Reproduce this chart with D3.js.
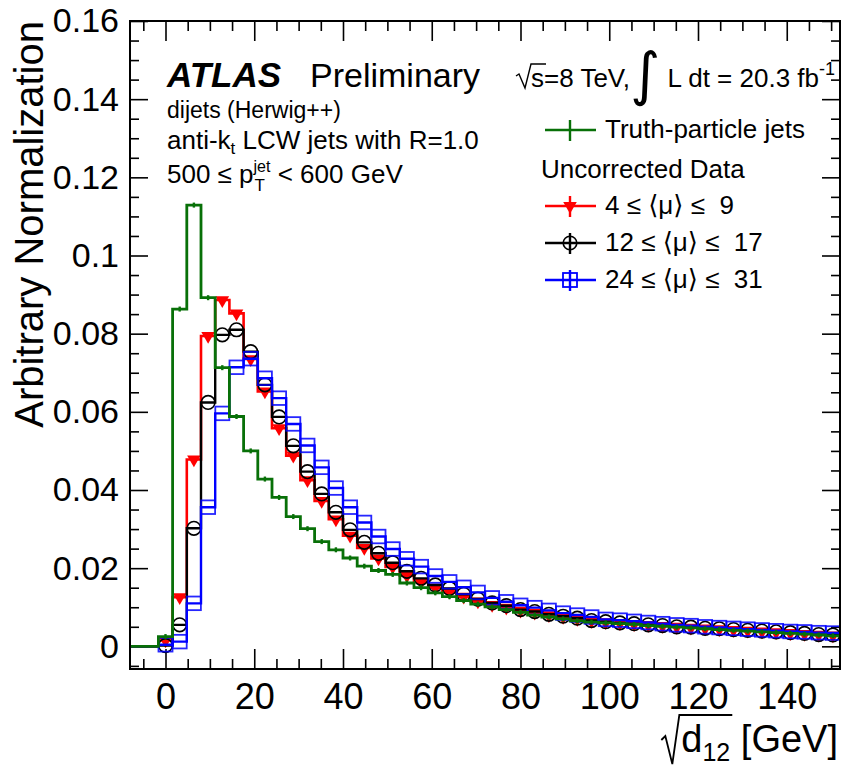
<!DOCTYPE html>
<html>
<head>
<meta charset="utf-8">
<script src="https://cdn.jsdelivr.net/npm/d3@7"></script>
<style>
body{margin:0;background:#fff;}
svg text{font-family:"Liberation Sans",Arial,Helvetica,"DejaVu Sans",sans-serif;fill:#000;white-space:pre;}
</style>
</head>
<body>
<div id="chart"></div>
<script>
// sqrt(d12) bins, 3.2 GeV wide
const binCenters=[-6.4,-3.2,0,3.2,6.4,9.6,12.8,16,19.2,22.4,25.6,28.8,32,35.2,38.4,41.6,44.8,48,51.2,54.4,
  57.6,60.8,64,67.2,70.4,73.6,76.8,80,83.2,86.4,89.6,92.8,96,99.2,102.4,105.6,108.8,112,115.2,118.4,
  121.6,124.8,128,131.2,134.4,137.6,140.8,144,147.2,150.4];
const halfBin=1.6;

const truthJets=[0,0,0.0025,0.0863,0.1129,0.0892,0.0713,0.0588,0.0500,0.0428,0.0381,0.0332,0.0301,0.0268,0.0247,0.0226,0.0205,0.0194,0.0184,0.0162,
  0.0150,0.0137,0.0127,0.0117,0.0108,0.0101,0.0094,0.0087,0.0080,0.0075,0.0070,0.0065,0.0062,0.0060,0.0058,0.0056,0.0053,0.0051,0.0049,0.0047,
  0.0045,0.0043,0.0041,0.0039,0.0037,0.0035,0.0033,0.0031,0.0029,0.0027];
const mu4to9=[0,0,0.0015,0.0126,0.0478,0.0794,0.0886,0.0852,0.0735,0.0652,0.0558,0.0488,0.0425,0.0372,0.0325,0.0283,0.0252,0.0225,0.0203,0.0181,
  0.0165,0.0150,0.0140,0.0127,0.0115,0.0106,0.0099,0.0091,0.0086,0.0080,0.0075,0.0070,0.0065,0.0062,0.0059,0.0057,0.0055,0.0052,0.0050,0.0048,
  0.0046,0.0044,0.0042,0.0040,0.0038,0.0036,0.0034,0.0032,0.0030,0.0028];
const mu12to17=[0,0,0.0002,0.0055,0.0302,0.0624,0.0797,0.0810,0.0754,0.0669,0.0587,0.0513,0.0447,0.0390,0.0343,0.0298,0.0266,0.0238,0.0214,0.0192,
  0.0174,0.0157,0.0148,0.0133,0.0121,0.0111,0.0104,0.0094,0.0089,0.0082,0.0077,0.0072,0.0066,0.0063,0.0060,0.0058,0.0055,0.0053,0.0050,0.0049,
  0.0046,0.0045,0.0043,0.0041,0.0039,0.0037,0.0035,0.0033,0.0030,0.0029];
const mu24to31=[0,0,0.0004,0.0012,0.0110,0.0356,0.0596,0.0714,0.0736,0.0686,0.0635,0.0569,0.0514,0.0458,0.0405,0.0356,0.0317,0.0281,0.0249,0.0224,
  0.0204,0.0180,0.0165,0.0151,0.0138,0.0124,0.0114,0.0105,0.0099,0.0092,0.0085,0.0080,0.0075,0.0069,0.0067,0.0064,0.0061,0.0058,0.0055,0.0053,
  0.0050,0.0048,0.0046,0.0044,0.0042,0.0040,0.0038,0.0037,0.0035,0.0034];

const xMajorTicks=[0,20,40,60,80,100,120,140];
const xTickLabels=["0","20","40","60","80","100","120","140"];
const yMajorTicks=[0,0.02,0.04,0.06,0.08,0.1,0.12,0.14,0.16];
const yTickLabels=["0","0.02","0.04","0.06","0.08","0.1","0.12","0.14","0.16"];

const green="#087008", red="#ff0000", blue="#0000ff";

const svg=d3.select("#chart").append("svg").attr("width",842).attr("height",767);
const x=d3.scaleLinear().domain([-8,152]).range([130,840]);
const y=d3.scaleLinear().domain([-0.0058,0.16]).range([669,21]);

// ---- axes (ticks inward, ROOT style)
const xMinor=d3.range(-1,31).map(k=>k*5).filter(v=>v%20!==0);
const yMinor=d3.range(-1,33).map(k=>k*0.005).filter((v,i)=>(i-1)%4!==0);

function axisG(ax,tr){
  const g=svg.append("g").attr("transform",tr).call(ax);
  g.select(".domain").remove();
  g.selectAll("line").attr("stroke","#000").attr("stroke-width",1.6);
  return g;
}
const xb=axisG(d3.axisBottom(x).tickValues(xMajorTicks).tickFormat((d,i)=>xTickLabels[i]).tickSize(-20).tickPadding(14),"translate(0,669)");
xb.selectAll("text").attr("font-size",36).attr("font-family",null);
axisG(d3.axisBottom(x).tickValues(xMinor).tickFormat("").tickSize(-10),"translate(0,669)");
axisG(d3.axisTop(x).tickValues(xMajorTicks).tickFormat("").tickSize(-20),"translate(0,21)");
axisG(d3.axisTop(x).tickValues(xMinor).tickFormat("").tickSize(-10),"translate(0,21)");
const yl=axisG(d3.axisLeft(y).tickValues(yMajorTicks).tickFormat((d,i)=>yTickLabels[i]).tickSize(-18).tickPadding(11),"translate(130,0)");
yl.selectAll("text").attr("font-size",34).attr("font-family",null);
axisG(d3.axisLeft(y).tickValues(yMinor).tickFormat("").tickSize(-9),"translate(130,0)");
axisG(d3.axisRight(y).tickValues(yMajorTicks).tickFormat("").tickSize(-18),"translate(840,0)");
axisG(d3.axisRight(y).tickValues(yMinor).tickFormat("").tickSize(-9),"translate(840,0)");

// ---- histograms
const plot=svg.append("g");
const step=d3.line().x(d=>x(d[0])).y(d=>y(d[1])).curve(d3.curveStepAfter);
function stepPts(vals){
  const p=binCenters.map((c,i)=>[c-halfBin,vals[i]]);
  p.push([binCenters[binCenters.length-1]+halfBin,vals[vals.length-1]]);
  return p;
}
function drawStep(vals,col,w){
  plot.append("path").attr("d",step(stepPts(vals))).attr("fill","none").attr("stroke",col).attr("stroke-width",w);
}
const pts=vals=>binCenters.map((c,i)=>({c,v:vals[i]})).filter(d=>d.v>0);
const triDown=d3.symbol().type(d3.symbolTriangle).size(80);

// red 4<=mu<=9
drawStep(mu4to9,red,2.6);
plot.selectAll(".tri").data(pts(mu4to9)).join("path")
  .attr("d",triDown).attr("transform",d=>`translate(${x(d.c)},${y(d.v)}) rotate(180)`)
  .attr("fill",red);
// black 12<=mu<=17
drawStep(mu12to17,"#000",2.4);
plot.selectAll(".circ").data(pts(mu12to17)).join("circle")
  .attr("cx",d=>x(d.c)).attr("cy",d=>y(d.v)).attr("r",6.8)
  .attr("fill","none").attr("stroke","#000").attr("stroke-width",1.6);
// blue 24<=mu<=31
drawStep(mu24to31,blue,2.4);
plot.selectAll(".sq").data(pts(mu24to31)).join("rect")
  .attr("x",d=>x(d.c)-7).attr("y",d=>y(d.v)-6.8).attr("width",14).attr("height",13.6)
  .attr("fill","none").attr("stroke",blue).attr("stroke-width",1.8).attr("stroke-opacity",0.85);
// truth
drawStep(truthJets,green,2.8);
plot.selectAll(".err").data(pts(truthJets)).join("line")
  .attr("x1",d=>x(d.c)).attr("x2",d=>x(d.c)).attr("y1",d=>y(d.v)-2.5).attr("y2",d=>y(d.v)+2.5)
  .attr("stroke",green).attr("stroke-width",2.4);

// frame
svg.append("rect").attr("x",130).attr("y",21).attr("width",710).attr("height",648)
  .attr("fill","none").attr("stroke","#000").attr("stroke-width",2);

// ---- axis titles
svg.append("text").attr("transform","translate(43,21) rotate(-90)").attr("text-anchor","end")
  .attr("font-size",40).text("Arbitrary Normalization");

const xt=svg.append("text").attr("y",752).attr("font-size",38);
const xtD=xt.append("tspan").text("d");
const xtS=xt.append("tspan").attr("font-size",25).attr("dy",9).text("12");
xt.append("tspan").attr("dy",-9).text(" [GeV]");
const xtW=xt.node().getComputedTextLength();
const xt0=838-xtW;
xt.attr("x",xt0);
const dW=xtD.node().getComputedTextLength()+xtS.node().getComputedTextLength();
svg.append("path").attr("d",`M${xt0-20},740 L${xt0-16},736 L${xt0-9},764 L${xt0-2},715 L${xt0+dW+2},715`)
  .attr("fill","none").attr("stroke","#000").attr("stroke-width",1.8);

// ---- labels
const lab=svg.append("g");
lab.append("text").attr("x",167).attr("y",87).attr("font-size",35).attr("font-weight","bold").attr("font-style","italic").text("ATLAS");
lab.append("text").attr("x",310).attr("y",87).attr("font-size",34).text("Preliminary");
lab.append("text").attr("x",167).attr("y",118).attr("font-size",23).text("dijets (Herwig++)");
const t2=lab.append("text").attr("x",167).attr("y",149).attr("font-size",26);
t2.append("tspan").text("anti-k");
t2.append("tspan").attr("font-size",17).attr("dy",5).text("t");
t2.append("tspan").attr("dy",-5).text(" LCW jets with R=1.0");
const t3=lab.append("text").attr("x",167).attr("y",183).attr("font-size",26);
t3.append("tspan").text("500 ≤ p");
const sup=t3.append("tspan").attr("font-size",16).attr("dy",-11).text("jet");
const sub=t3.append("tspan").attr("font-size",17).attr("dy",19).text("T");
const rest=t3.append("tspan").attr("dy",-8).text(" < 600 GeV");
const supW=sup.node().getComputedTextLength(), subW=sub.node().getComputedTextLength();
sub.attr("dx",-supW+1);
rest.attr("dx",supW-subW-1);

// header
const h=lab.append("text").attr("x",531).attr("y",87).attr("font-size",26);
h.append("tspan").text("s=8 TeV,");
h.append("tspan").attr("font-size",58).attr("dy",7).attr("font-family","DejaVu Sans").text("∫");
h.append("tspan").attr("dy",-7).text(" L dt = 20.3 fb");
h.append("tspan").attr("font-size",18).attr("dy",-12).text("-1");
lab.append("path").attr("d","M516,76 L519,74 L525,88 L531,64 L546,64").attr("fill","none").attr("stroke","#000").attr("stroke-width",1.4);

// ---- legend
const legendNames=["Truth-particle jets","4 ≤ ⟨μ⟩ ≤  9","12 ≤ ⟨μ⟩ ≤  17","24 ≤ ⟨μ⟩ ≤  31"];
const legendCols=[green,red,"#000",blue];
const legendY=[130,206,243,280];
const lg=svg.append("g");
legendNames.forEach((name,i)=>{
  const yy=legendY[i];
  lg.append("line").attr("x1",545).attr("x2",596).attr("y1",yy).attr("y2",yy).attr("stroke",legendCols[i]).attr("stroke-width",2.4);
  lg.append("line").attr("x1",570).attr("x2",570).attr("y1",yy-10).attr("y2",yy+11).attr("stroke",legendCols[i]).attr("stroke-width",2.4);
  if(i===1) lg.append("path").attr("d",triDown).attr("transform",`translate(570,${yy}) rotate(180)`).attr("fill",red);
  if(i===2) lg.append("circle").attr("cx",570).attr("cy",yy).attr("r",6.8).attr("fill","none").attr("stroke","#000").attr("stroke-width",1.6);
  if(i===3) lg.append("rect").attr("x",563).attr("y",yy-7).attr("width",14).attr("height",14).attr("fill","none").attr("stroke",blue).attr("stroke-width",1.8);
  lg.append("text").attr("x",605).attr("y",yy+8).attr("font-size",26).text(name);
});
lg.append("text").attr("x",541).attr("y",178).attr("font-size",26).text("Uncorrected Data");
</script>
</body>
</html>
